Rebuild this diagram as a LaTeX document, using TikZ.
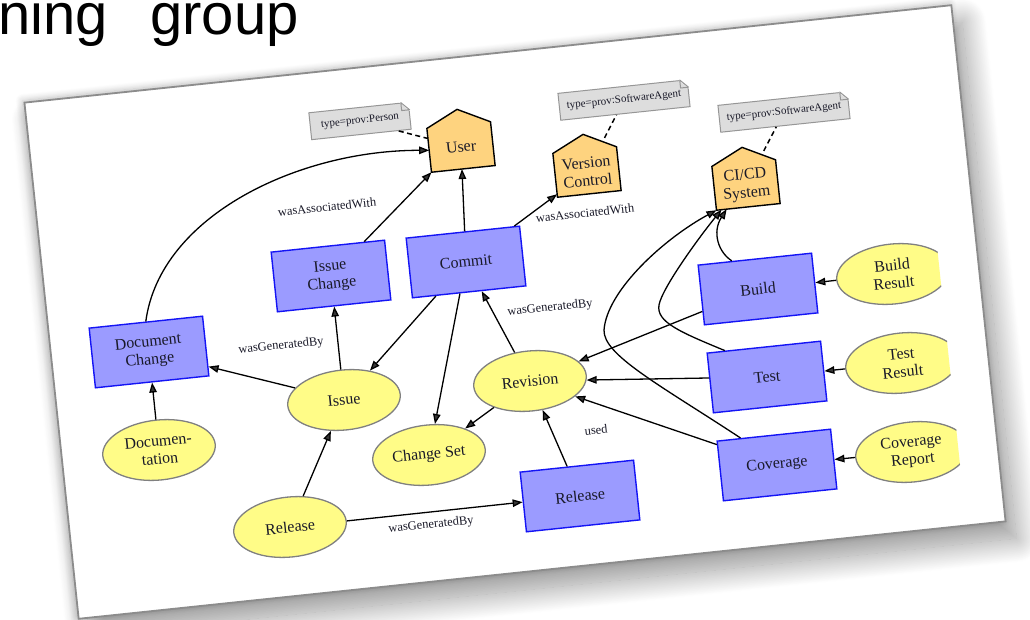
\documentclass[tikz,border=0pt]{standalone}
\usepackage{fontspec}
\setmainfont{Liberation Serif}
\newfontfamily\titlefont{Liberation Sans}
\usetikzlibrary{arrows.meta,calc,shapes.geometric,shadows.blur}
\pgfdeclarelayer{cardlayer}
\pgfdeclarelayer{houselayer}
\pgfsetlayers{cardlayer,houselayer,main}
\definecolor{actfill}{RGB}{155,155,255}
\definecolor{actline}{RGB}{20,20,245}
\definecolor{entfill}{RGB}{255,252,135}
\definecolor{entline}{RGB}{128,128,128}
\definecolor{agfill}{RGB}{254,211,127}
\definecolor{notefill}{RGB}{221,221,221}
\definecolor{noteline}{RGB}{150,150,150}
\definecolor{cardline}{RGB}{140,140,140}
\definecolor{inktext}{RGB}{25,25,40}

\tikzset{
  tilt/.style={rotate=6, text=inktext},
  nodefont/.style={font=\fontsize{16}{18}\selectfont},
  activity/.style={tilt, nodefont, rectangle, draw=actline, fill=actfill, line width=1.4pt,
    minimum width=114pt, minimum height=60pt, inner sep=2pt, align=center},
  entity/.style={tilt, nodefont, ellipse, draw=entline, fill=entfill, line width=1.3pt,
    minimum width=113pt, minimum height=60pt, inner sep=0pt, align=center},
  agent/.style={tilt, nodefont, rectangle, minimum width=64pt, minimum height=44pt,
    inner sep=0pt, outer sep=0pt, align=center},
  house/.style={draw=black, fill=agfill, line width=1.4pt, line join=miter},
  note/.style={tilt, rectangle, draw=noteline, fill=notefill, line width=1pt,
    minimum height=27pt, inner sep=3pt, font=\fontsize{11}{13}\selectfont},
  elabel/.style={tilt, font=\fontsize{12.5}{14}\selectfont, inner sep=1pt},
  rel/.style={line width=1.3pt, -{Triangle[length=10pt,width=7.5pt]}},
  attr/.style={line width=1.5pt, dash pattern=on 5pt off 3.5pt},
  titletext/.style={font=\titlefont\fontsize{58}{58}\selectfont, inner sep=0pt, text=black},
}

\begin{document}
\begin{tikzpicture}[x=1pt, y=-1pt]
\useasboundingbox (0,0) rectangle (1030,620);

% slide title, cut at the top edge
\node[titletext, anchor=base west] (titleA) at (-2,35) {ning};
\node[titletext, anchor=base west] (titleB) at (150,35) {group};

% tilted card: faint glow, soft drop shadow, white sheet
\begin{pgfonlayer}{cardlayer}
\path[fill=white,
  blur shadow={shadow xshift=-2pt, shadow yshift=2pt, shadow blur radius=7pt,
    shadow blur steps=20, shadow opacity=22},
  rotate around={6:(515,312)}] (49,52.5) rectangle (981,571.5);
\draw[cardline, line width=1.8pt, fill=white,
  blur shadow={shadow xshift=11pt, shadow yshift=-17pt, shadow blur radius=24pt,
    shadow blur steps=40, shadow opacity=42},
  rotate around={6:(515,312)}] (49,52.5) rectangle (981,571.5);
\end{pgfonlayer}

% agents
\node[agent] (user) at (461,147) {User};
\node[agent] (vc) at (587,172) {Version\\Control};
\node[agent] (cicd) at (746,185) {CI/CD\\System};
\begin{pgfonlayer}{houselayer}
\foreach \n in {user,vc,cicd}
  \draw[house] (\n.south west) -- (\n.north west) -- ($(\n.north)!-0.36!(\n.south)$)
    -- (\n.north east) -- (\n.south east) -- cycle;
\end{pgfonlayer}

% notes with folded corner
\node[note, minimum width=100pt] (pnote) at (360,121) {type=prov:Person};
\node[note, minimum width=130pt] (vcnote) at (624,100) {type=prov:SoftwareAgent};
\node[note, minimum width=130pt] (cinote) at (784,112) {type=prov:SoftwareAgent};
\foreach \n in {pnote,vcnote,cinote}{
  \coordinate (\n-a) at ($(\n.north east)!8pt!(\n.north west)$);
  \coordinate (\n-b) at ($(\n.north east)!8pt!(\n.south east)$);
  \filldraw[white, line width=1.5pt] (\n-a) -- (\n.north east) -- (\n-b) -- cycle;
  \draw[noteline, line width=1pt, line join=round]
    (\n-a) -- (\n-b) -- ($(\n-a)+(\n-b)-(\n.north east)$) -- cycle;
}

% activities
\node[activity] (commit) at (466,262) {Commit};
\node[activity] (ichange) at (331,276) {Issue\\Change};
\node[activity] (dchange) at (149,352) {Document\\Change};
\node[activity] (relact) at (580,496) {Release};
\node[activity] (build) at (758,289) {Build};
\node[activity] (test) at (767,377) {Test};
\node[activity] (cov) at (777,465) {Coverage};

% entities
\node[entity] (docu) at (159,450) {Documen-\\tation};
\node[entity] (issue) at (344,400) {Issue};
\node[entity] (cset) at (429,455) {Change Set};
\node[entity] (relent) at (290,527) {Release};
\node[entity] (rev) at (530,381) {Revision};
\begin{scope}
\clip[rotate around={6:(515,312)}] (-100,-100) rectangle (941.6,720);
\node[entity] (bres) at (893,274) {Build\\Result};
\node[entity] (tres) at (902,363) {Test\\Result};
\node[entity] (crep) at (912,452) {Coverage\\Report};
\end{scope}

% attribute links
\draw[attr] (pnote) -- (user);
\draw[attr, shorten <=12pt] (vc) -- (vcnote);
\draw[attr, shorten <=12pt] (cicd) -- (cinote);

% relations
\draw[rel] (dchange.north) .. controls (160,215) and (300,150) .. (user.west);
\draw[rel] (ichange) -- (user.south west);
\draw[rel] (commit) -- (user);
\draw[rel] (commit) -- (vc);
\draw[rel] (commit) -- (issue);
\draw[rel] (commit) -- (cset);
\draw[rel] (rev) -- (commit);
\draw[rel] (rev) -- (cset);
\draw[rel] (issue) -- (ichange);
\draw[rel] (issue) -- (dchange);
\draw[rel] (docu) -- (dchange);
\draw[rel] (relent) -- (issue);
\draw[rel] (relent) -- (relact);
\draw[rel] (relact) -- (rev);
\draw[rel] (build) -- (rev);
\draw[rel] (test) -- (rev);
\draw[rel] (cov) -- (rev);
\draw[rel] (bres) -- (build);
\draw[rel] (tres) -- (test);
\draw[rel] (crep) -- (cov);
\draw[rel] ($(cov.north west)!0.21!(cov.north east)$)
  .. controls (660,385) and (603,355) .. (604,330)
  .. controls (607,290) and (665,238) .. (cicd.south west);
\draw[rel] ($(test.north west)!0.16!(test.north east)$)
  .. controls (680,332) and (656,322) .. (659,305)
  .. controls (662,288) and (700,236) .. ($(cicd.south west)!0.08!(cicd.south east)$);
\draw[rel] ($(build.north west)!0.3!(build.north east)$)
  .. controls (718,252) and (712,232) .. ($(cicd.south west)!0.16!(cicd.south east)$);

% relation labels
\node[elabel] (lab1) at (327,207) {wasAssociatedWith};
\node[elabel] (lab2) at (585,213) {wasAssociatedWith};
\node[elabel] (lab3) at (281,346) {wasGeneratedBy};
\node[elabel] (lab4) at (550,308) {wasGeneratedBy};
\node[elabel] (lab5) at (431,525) {wasGeneratedBy};
\node[elabel] (lab6) at (596,430) {used};
\end{tikzpicture}
\end{document}
